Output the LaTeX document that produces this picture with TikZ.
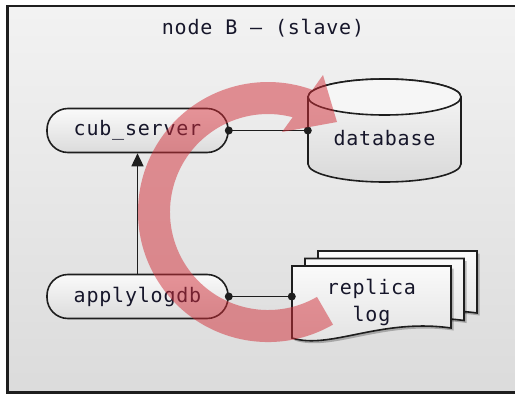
\documentclass[tikz,border=0pt]{standalone}
\usepackage{fontspec}
\usetikzlibrary{arrows.meta}
\newfontfamily\labfont{DejaVu Sans Mono}[LetterSpace=4]
\definecolor{inkc}{HTML}{16162A}
\definecolor{linec}{HTML}{1E1E1E}
\definecolor{cyclered}{RGB}{210,45,55}

\begin{document}
\begin{tikzpicture}[x=1pt, y=-1pt,
  lbl/.style={font=\labfont\fontsize{20}{27}\selectfont, text=inkc},
  proc/.style={lbl, draw=linec, line width=1.6pt, rounded corners=21pt,
    minimum width=181pt, minimum height=44pt, inner sep=0pt,
    top color=gray!4, bottom color=gray!28},
  outl/.style={draw=linec, line width=1.6pt},
  link/.style={draw=linec, line width=1.5pt},
  enddot/.style={fill=linec},
  docpath/.style={insert path={(292,266) -- (451,266) -- (451,328)
    .. controls (380,318) and (330,350) .. (292,338) -- cycle}}]

  \useasboundingbox (0,0) rectangle (515,394);
  \clip (0,0) rectangle (515,394);
  \fill[white] (0,0) rectangle (515,394);

  % host frame
  \path[top color=gray!10, bottom color=gray!28, draw=linec, line width=2.4pt]
    (7.5,6) rectangle (540,392.5);
  \node[lbl] (title) at (263,28) {node B – (slave)};

  % processes
  \node[proc] (cs) at (137.5,130.5) {cub\_server};
  \node[proc] (al) at (137.5,296.5) {applylogdb};

  % database cylinder
  \path[outl, top color=gray!5, bottom color=gray!30]
    (308,97) -- (308,164)
    arc[start angle=180, end angle=0, x radius=76.5, y radius=18]
    -- (461,97)
    arc[start angle=0, end angle=-180, x radius=76.5, y radius=18] -- cycle;
  \path[outl, fill=gray!7] (384.5,97) ellipse[x radius=76.5, y radius=18];
  \node[lbl, minimum width=153pt, inner sep=0pt] (db) at (384.5,138) {database};

  % stacked replica log pages
  \foreach \dx/\dy in {26/-15, 13/-7.5, 0/0} {
    \begin{scope}[shift={(\dx,\dy)}]
      \fill[black, opacity=0.25, shift={(2.5,2.5)}] [docpath];
      \path[outl, top color=gray!4, bottom color=gray!24] [docpath];
    \end{scope}
  }
  \node[lbl, align=center, minimum width=159pt, inner sep=0pt] (rl)
    at (371.5,302) {replica\\log};

  % connectors
  \draw[link] (cs.east) -- (cs.east -| db.west);
  \fill[enddot] (cs.east) circle[radius=4pt];
  \fill[enddot] (cs.east -| db.west) circle[radius=4pt];
  \draw[link] (al.east) -- (al.east -| rl.west);
  \fill[enddot] (al.east) circle[radius=4pt];
  \fill[enddot] (al.east -| rl.west) circle[radius=4pt];
  \draw[link, -{Triangle[length=13pt, width=12pt]}] (al.north) -- (cs.south);

  % replication cycle arrow
  \fill[cyclered, fill opacity=0.5]
    (333,324.6) arc[start angle=60, end angle=290, radius=130]
    -- (323,75) -- (337,122) -- (282,132) -- (292.7,117.2)
    arc[start angle=284.6, end angle=60, radius=98] -- cycle;
\end{tikzpicture}
\end{document}
